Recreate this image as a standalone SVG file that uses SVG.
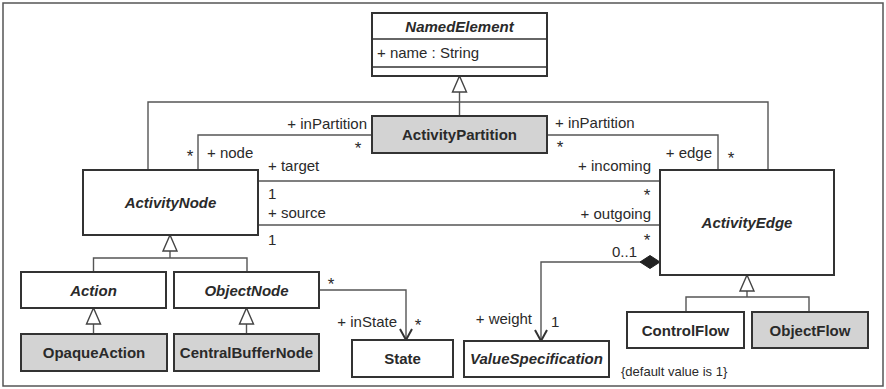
<svg xmlns="http://www.w3.org/2000/svg" width="886" height="389" viewBox="0 0 886 389">
<style>
text{font-family:"Liberation Sans",Arial,sans-serif;fill:#2a2a2a;font-size:15px}
.cls{fill:#fff;stroke:#333;stroke-width:2}
.gray{fill:#d3d3d3}
.name{font-weight:bold;text-anchor:middle}
.abs{font-style:italic}
.end{text-anchor:end}
.mid{text-anchor:middle}
.ast{text-anchor:middle;font-size:17px}
.con path{fill:none;stroke:#555;stroke-width:1.4}
.sep{stroke:#333;stroke-width:1.5}
</style>
<defs>
<marker id="gen" markerUnits="userSpaceOnUse" markerWidth="18" markerHeight="16" refX="16" refY="7" orient="auto" overflow="visible">
<path d="M0,0 L16,7 L0,14 Z" fill="#fff" stroke="#444" stroke-width="1.4"/>
</marker>
<marker id="open" markerUnits="userSpaceOnUse" markerWidth="14" markerHeight="14" refX="11" refY="6" orient="auto" overflow="visible">
<path d="M0,0 L11,6 L0,12" fill="none" stroke="#333" stroke-width="2"/>
</marker>
<marker id="dia" markerUnits="userSpaceOnUse" markerWidth="22" markerHeight="14" refX="0" refY="6.5" orient="auto" overflow="visible">
<path d="M0,6.5 L10,0 L20,6.5 L10,13 Z" fill="#222" stroke="#222" stroke-width="1"/>
</marker>
</defs>
<rect x="3" y="3" width="880" height="383" fill="#fff" stroke="#555" stroke-width="1.5"/>
<g id="connectors" class="con">
<path d="M459.5,116 V76" marker-end="url(#gen)"/>
<path d="M148,170 V102 H768 V170"/>
<path d="M198,170 V135 H372"/>
<path d="M547,135 H718 V170"/>
<path d="M258,181 H660"/>
<path d="M258,225 H660"/>
<path d="M93.5,272 V258 H247 V272"/>
<path d="M170,258 V235" marker-end="url(#gen)"/>
<path d="M93.5,334 V308" marker-end="url(#gen)"/>
<path d="M246.5,334 V308" marker-end="url(#gen)"/>
<path d="M319,290 H406 V340" marker-end="url(#open)"/>
<path d="M660,262 H541 V341" marker-start="url(#dia)" marker-end="url(#open)"/>
<path d="M686,312 V297 H809 V312"/>
<path d="M747,297 V275" marker-end="url(#gen)"/>
</g>
<g id="labels">
<text x="367" y="129" class="end">+ inPartition</text>
<text x="358" y="154" class="ast">*</text>
<text x="190" y="162" class="ast">*</text>
<text x="207" y="158">+ node</text>
<text x="555" y="128">+ inPartition</text>
<text x="560" y="153" class="ast">*</text>
<text x="712" y="158" class="end">+ edge</text>
<text x="731" y="164" class="ast">*</text>
<text x="268" y="171">+ target</text>
<text x="268" y="199">1</text>
<text x="268" y="218">+ source</text>
<text x="268" y="245">1</text>
<text x="651" y="171" class="end">+ incoming</text>
<text x="647" y="200.5" class="ast">*</text>
<text x="651" y="218.5" class="end">+ outgoing</text>
<text x="647" y="246" class="ast">*</text>
<text x="637" y="257" class="end">0..1</text>
<text x="532" y="324" class="end">+ weight</text>
<text x="551" y="327">1</text>
<text x="331" y="290" class="ast">*</text>
<text x="418" y="331" class="ast">*</text>
<text x="397" y="327" class="end">+ inState</text>
<text x="621" y="376" style="font-size:13px">{default value is 1}</text>
</g>
<g id="NamedElement">
<rect class="cls" x="372" y="13" width="175" height="63"/>
<line class="sep" x1="372" y1="39" x2="547" y2="39"/>
<line class="sep" x1="372" y1="67" x2="547" y2="67"/>
<text x="459.5" y="32" class="name abs">NamedElement</text>
<text x="377" y="58">+ name : String</text>
</g>
<g id="ActivityPartition">
<rect class="cls gray" x="372" y="116" width="175" height="37"/>
<text x="459.5" y="140" class="name">ActivityPartition</text>
</g>
<g id="ActivityNode">
<rect class="cls" x="83" y="170" width="175" height="65"/>
<text x="170.5" y="208" class="name abs">ActivityNode</text>
</g>
<g id="ActivityEdge">
<rect class="cls" x="660" y="170" width="174" height="105"/>
<text x="747" y="228" class="name abs">ActivityEdge</text>
</g>
<g id="Action">
<rect class="cls" x="21" y="272" width="145" height="36"/>
<text x="93.5" y="295.5" class="name abs">Action</text>
</g>
<g id="ObjectNode">
<rect class="cls" x="174" y="272" width="145" height="36"/>
<text x="246.5" y="295.5" class="name abs">ObjectNode</text>
</g>
<g id="OpaqueAction">
<rect class="cls gray" x="21" y="334" width="146" height="37"/>
<text x="94" y="358" class="name">OpaqueAction</text>
</g>
<g id="CentralBufferNode">
<rect class="cls gray" x="174" y="334" width="145" height="37"/>
<text x="246.5" y="358" class="name">CentralBufferNode</text>
</g>
<g id="State">
<rect class="cls" x="352" y="340" width="101" height="37"/>
<text x="402.5" y="364" class="name">State</text>
</g>
<g id="ValueSpecification">
<rect class="cls" x="464" y="341" width="145" height="36"/>
<text x="536.5" y="364" class="name abs">ValueSpecification</text>
</g>
<g id="ControlFlow">
<rect class="cls" x="627" y="312" width="117" height="36"/>
<text x="685.5" y="335.5" class="name">ControlFlow</text>
</g>
<g id="ObjectFlow">
<rect class="cls gray" x="752" y="312" width="116" height="36"/>
<text x="810" y="335.5" class="name">ObjectFlow</text>
</g>
</svg>
